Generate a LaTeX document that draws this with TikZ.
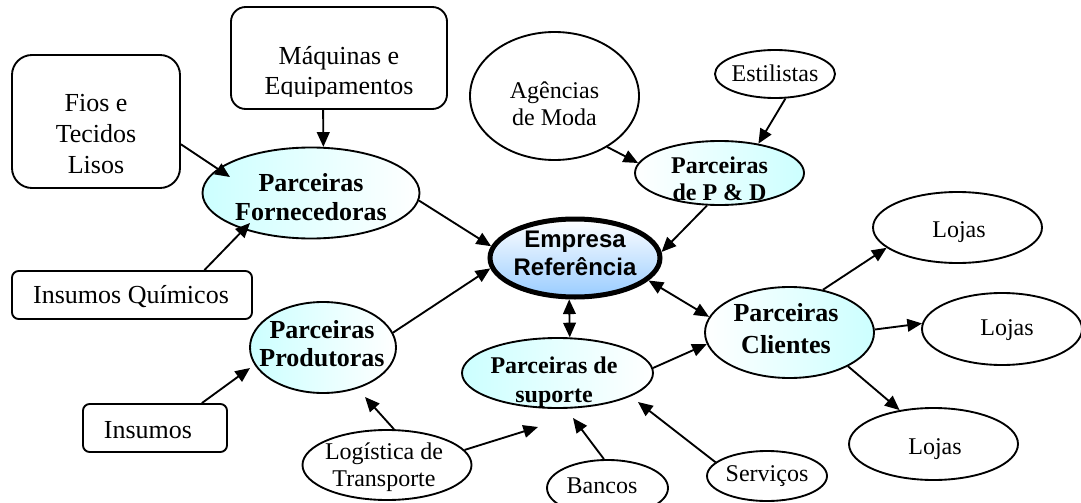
\documentclass[tikz,border=0pt]{standalone}
\usepackage{fontspec}
\setmainfont{Liberation Serif}
\newfontfamily\arialfont{Liberation Sans}
\usetikzlibrary{shapes.geometric,arrows.meta,calc}

\definecolor{ciano}{RGB}{204,255,255}
\definecolor{azulref}{RGB}{153,204,255}

\tikzset{every picture/.style={line width=1.4pt}}
\tikzset{
  elipse/.style 2 args={ellipse, draw, inner sep=0pt, minimum width=#1, minimum height=#2},
  caixa/.style 2 args={rectangle, draw, inner sep=0pt, minimum width=#1, minimum height=#2},
  seta/.style={-{Triangle[length=11pt,width=9.5pt]}},
  dupla/.style={{Triangle[length=11pt,width=9.5pt]}-{Triangle[length=11pt,width=9.5pt]}},
  grande/.style={inner sep=0.75pt, align=center, font=\fontsize{19.5}{22}\selectfont},
  pequeno/.style={inner sep=0.75pt, align=center, font=\fontsize{18}{20.5}\selectfont},
}

\begin{document}
\begin{tikzpicture}[x=0.75pt,y=0.75pt,yscale=-1,xscale=1]
\useasboundingbox (0,0) rectangle (1081,503);

%Shape: Rounded Rect
\node [caixa={126pt}{99.75pt}, rounded corners=15pt] (fios) at (96,121.5) {};
%Shape: Rounded Rect
\node [caixa={162pt}{76.5pt}, rounded corners=11pt] (maq) at (339,58) {};
%Shape: Rounded Rect
\node [caixa={180pt}{36pt}, rounded corners=5pt] (insq) at (132,295) {};
%Shape: Rounded Rect
\node [caixa={108pt}{36pt}, rounded corners=5pt] (ins) at (155,428) {};

%Shape: Ellipse
\node [elipse={162.75pt}{68.25pt}, left color=ciano, right color=white] (forn) at (311,193) {};
%Shape: Ellipse
\node [elipse={109.5pt}{68.25pt}, left color=ciano, right color=white] (prod) at (323,347.5) {};
%Shape: Ellipse
\node [elipse={126.75pt}{48pt}, left color=white, right color=ciano] (ped) at (719.5,173) {};
%Shape: Ellipse
\node [elipse={143.25pt}{52.5pt}, left color=ciano, right color=white] (sup) at (557.5,373) {};
%Shape: Ellipse
\node [elipse={126.75pt}{68.25pt}, left color=white, right color=ciano] (cli) at (789.5,332.5) {};
%Shape: Ellipse
\node [elipse={127.5pt}{58.5pt}, line width=3.75pt, top color=white, bottom color=azulref] (emp) at (575,258) {};

%Shape: Ellipse
\node [elipse={126.75pt}{96pt}] (ag) at (554.5,96) {};
%Shape: Ellipse
\node [elipse={90pt}{36pt}] (est) at (775,74) {};
%Shape: Ellipse
\node [elipse={126.75pt}{53.25pt}] (loja1) at (957.5,227.5) {};
%Shape: Ellipse
\node [elipse={120pt}{54pt}] (loja2) at (1002,329) {};
%Shape: Ellipse
\node [elipse={126.75pt}{54pt}] (loja3) at (933.5,444) {};
%Shape: Ellipse
\node [elipse={126.75pt}{52.5pt}] (log) at (387,465) {};
%Shape: Ellipse
\node [elipse={90.75pt}{42pt}] (bancos) at (607.5,488) {};
%Shape: Ellipse
\node [elipse={90pt}{37.5pt}] (serv) at (767,476) {};

%Straight Lines
\draw [seta] (fios.-15) -- ($(forn)+(-81,-16)$);
\draw [seta] (maq.-107) -- (forn.75);
\draw [seta] (insq.19) -- ($(forn)+(-61,30)$);
\draw [seta] (forn.-4) -- (emp.172);
\draw [seta] (prod.12) -- (emp.187);
\draw [seta] (ped.249) -- (emp.4);
\draw [seta] (ag.-44) -- (ped.173);
\draw [seta] (est.-67) -- (ped.37);
\draw [dupla] (emp.262) -- (sup.71);
\draw [dupla] (emp.-17) -- (cli.169);
\draw [seta] (sup.3) -- (cli.188);
\draw [seta] (cli.52) -- (loja1.196);
\draw [seta] (cli.2) -- (loja2.176);
\draw [seta] (cli.-30) -- (loja3.135);
\draw [seta] (ins.28) -- ($(prod)+(-73,20.5)$);
\draw [seta] (log.79) -- ($(prod)+(42,49.5)$);
\draw [seta] (log.11) -- ($(sup)+(-19.5,54)$);
\draw [seta] (bancos.97) -- ($(sup)+(15.5,45)$);
\draw [seta] (serv.165) -- ($(sup)+(80.5,29)$);

% Text Node
\begin{scope}
\clip (fios.north west) rectangle ($(fios.south east)+(0,-15.5)$);
\node [grande, font=\fontsize{19.5}{23}\selectfont] (t-fios) at (96,134) {Fios e\\Tecidos\\Lisos};
\end{scope}
% Text Node
\begin{scope}
\clip (maq.north west) rectangle ($(maq.south east)+(0,-13.5)$);
\node [grande, font=\fontsize{19.5}{22.5}\selectfont] (t-maq) at (339,73) {Máquinas e\\Equipamentos};
\end{scope}
% Text Node
\node [grande] (t-insq) at (131,297) {Insumos Químicos};
% Text Node
\node [grande] (t-ins) at (148,430) {Insumos};
% Text Node
\node [grande, font=\bfseries\fontsize{19.5}{22}\selectfont] (t-forn) at (311,197) {Parceiras\\Fornecedoras};
% Text Node
\node [grande, font=\bfseries\fontsize{19.5}{21}\selectfont] (t-prod) at (322,344) {Parceiras\\Produtoras};
% Text Node
\node [grande, font=\bfseries\fontsize{19.5}{24}\selectfont] (t-cli) at (786,329) {Parceiras\\Clientes};
% Text Node
\node [pequeno, font=\bfseries\fontsize{18}{20.5}\selectfont] (t-ped) at (719.5,178.5) {Parceiras\\de P \& D};
% Text Node
\node [pequeno, font=\bfseries\fontsize{18}{21.5}\selectfont] (t-sup) at (554,382) {Parceiras de\\suporte};
% Text Node
\node [pequeno, font=\arialfont\bfseries\fontsize{18}{20.5}\selectfont] (t-emp) at (575,253.5) {Empresa\\Referência};
% Text Node
\node [pequeno] (t-ag) at (554.5,103.5) {Agências\\de Moda};
% Text Node
\node [pequeno] (t-est) at (775,73) {Estilistas};
% Text Node
\node [pequeno] (t-loja1) at (959,232) {Lojas};
% Text Node
\node [pequeno] (t-loja2) at (1007,330) {Lojas};
% Text Node
\node [pequeno] (t-loja3) at (935,449) {Lojas};
% Text Node
\node [pequeno] (t-log) at (384,467) {Logística de\\Transporte};
% Text Node
\node [pequeno] (t-bancos) at (602,486) {Bancos};
% Text Node
\node [pequeno] (t-serv) at (767,476) {Serviços};
\end{tikzpicture}
\end{document}
